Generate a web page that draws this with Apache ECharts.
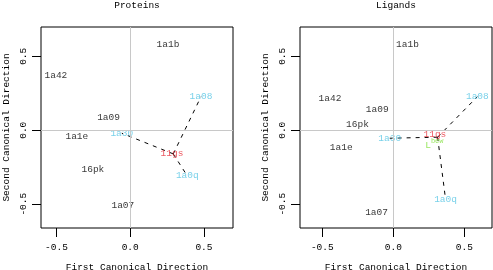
<!DOCTYPE html>
<html>
<head>
<meta charset="utf-8">
<script src="https://cdn.jsdelivr.net/npm/echarts@6/dist/echarts.min.js"></script>
<style>html,body{margin:0;padding:0;background:#fff;}#c{width:493px;height:270px;}</style>
</head>
<body>
<div id="c"></div>
<script>
// ---- data ----
const proteinNames = ['1a1b','1a42','1a09','1a08','1a1e','1a30','11gs','1a0q','16pk','1a07'];
const proteinX = [0.256,-0.504,-0.147,0.480,-0.362,-0.057,0.283,0.387,-0.253,-0.050];
const proteinY = [0.583,0.369,0.088,0.227,-0.039,-0.020,-0.160,-0.309,-0.268,-0.511];
const proteinGroup = ['o','o','o','n','o','n','r','n','o','o'];
const proteinHub = [0.292,-0.160];

const ligandNames = ['1a1b','1a42','1a09','16pk','1a08','1a1e','1a30','11gs','Lbew','1a0q','1a07'];
const ligandX = [0.100,-0.446,-0.113,-0.252,0.592,-0.367,-0.025,0.293,0.289,0.368,-0.118];
const ligandY = [0.581,0.214,0.142,0.036,0.227,-0.115,-0.054,-0.032,-0.093,-0.466,-0.554];
const ligandGroup = ['o','o','o','o','n','o','n','r','g','n','o'];
const ligandHub = [0.312,-0.047];

const spokes = ['1a08','1a30','1a0q'];
const tickValues = [-0.5, 0, 0.5];

const groupColor = {o:'#000000', n:'#55C4E4', r:'#E8323C', g:'#7FE03A'};
const FONT = 'Liberation Mono';
const FS = 9.5;

function pointsData(names, xs, ys, groups){
  return names.map((n,i)=>({
    value:[xs[i], ys[i]], name:n,
    label:{color:groupColor[groups[i]]}
  }));
}
function spokeSeries(names, xs, ys, hub, gi){
  return spokes.map(s=>{
    const i = names.indexOf(s);
    return {type:'line', xAxisIndex:gi, yAxisIndex:gi, symbol:'none', silent:true,
      lineStyle:{color:'#000', width:1, type:[4,5]},
      data:[hub, [xs[i], ys[i]]], z:1};
  });
}
function xAx(gi, min, max){
  return {type:'value', gridIndex:gi, min:min, max:max,
    axisLine:{show:false, onZero:false}, splitLine:{show:false},
    axisTick:{show:true, customValues:tickValues, length:9, lineStyle:{color:'#000', width:1}},
    axisLabel:{customValues:tickValues, formatter:v=>v.toFixed(1), margin:14,
      fontFamily:FONT, fontSize:FS, color:'#000'},
    name:'First Canonical Direction', nameLocation:'middle', nameGap:34,
    nameTextStyle:{fontFamily:FONT, fontSize:FS, color:'#000'}};
}
function yAx(gi, min, max){
  return {type:'value', gridIndex:gi, min:min, max:max,
    axisLine:{show:false, onZero:false}, splitLine:{show:false},
    axisTick:{show:true, customValues:tickValues, length:9, lineStyle:{color:'#000', width:1}},
    axisLabel:{customValues:tickValues, formatter:v=>v.toFixed(1), margin:13, rotate:90,
      fontFamily:FONT, fontSize:FS, color:'#000'},
    name:'Second Canonical Direction', nameLocation:'middle', nameGap:30,
    nameTextStyle:{fontFamily:FONT, fontSize:FS, color:'#000'}};
}
function labelSeries(data, gi){
  return {type:'scatter', xAxisIndex:gi, yAxisIndex:gi, symbolSize:0, silent:true, z:3,
    data:data,
    label:{show:true, position:'inside', formatter:p=>p.name==='Lbew'?'{a|L}{b|bew}':p.name,
      fontFamily:FONT, fontSize:FS,
      rich:{a:{fontFamily:FONT, fontSize:FS, color:groupColor.g, verticalAlign:'bottom'},
            b:{fontFamily:FONT, fontSize:7, color:groupColor.g, verticalAlign:'top', padding:[0,0,6,0]}}},
    markLine:{silent:true, symbol:'none', label:{show:false},
      lineStyle:{color:'#c8c8c8', type:'solid', width:1},
      data:[{xAxis:0},{yAxis:0}]}};
}

const chart = echarts.init(document.getElementById('c'), null, {renderer:'canvas'});
chart.setOption({
  animation:false,
  backgroundColor:'#fff',
  title:[
    {text:'Proteins', left:137, top:0, padding:0, textAlign:'center', textStyle:{fontFamily:FONT, fontSize:FS, fontWeight:'normal', color:'#000'}},
    {text:'Ligands', left:396, top:0, padding:0, textAlign:'center', textStyle:{fontFamily:FONT, fontSize:FS, fontWeight:'normal', color:'#000'}}
  ],
  grid:[
    {left:41, top:27, width:192, height:201, show:true, borderColor:'#000', borderWidth:1, backgroundColor:'transparent', containLabel:false, outerBoundsMode:'none'},
    {left:300, top:27, width:192, height:201, show:true, borderColor:'#000', borderWidth:1, backgroundColor:'transparent', containLabel:false, outerBoundsMode:'none'}
  ],
  xAxis:[xAx(0,-0.605,0.697), xAx(1,-0.657,0.695)],
  yAxis:[yAx(0,-0.661,0.698), yAx(1,-0.661,0.698)],
  series:[
    labelSeries(pointsData(proteinNames, proteinX, proteinY, proteinGroup), 0),
    labelSeries(pointsData(ligandNames, ligandX, ligandY, ligandGroup), 1),
    ...spokeSeries(proteinNames, proteinX, proteinY, proteinHub, 0),
    ...spokeSeries(ligandNames, ligandX, ligandY, ligandHub, 1)
  ]
});
</script>
</body>
</html>
